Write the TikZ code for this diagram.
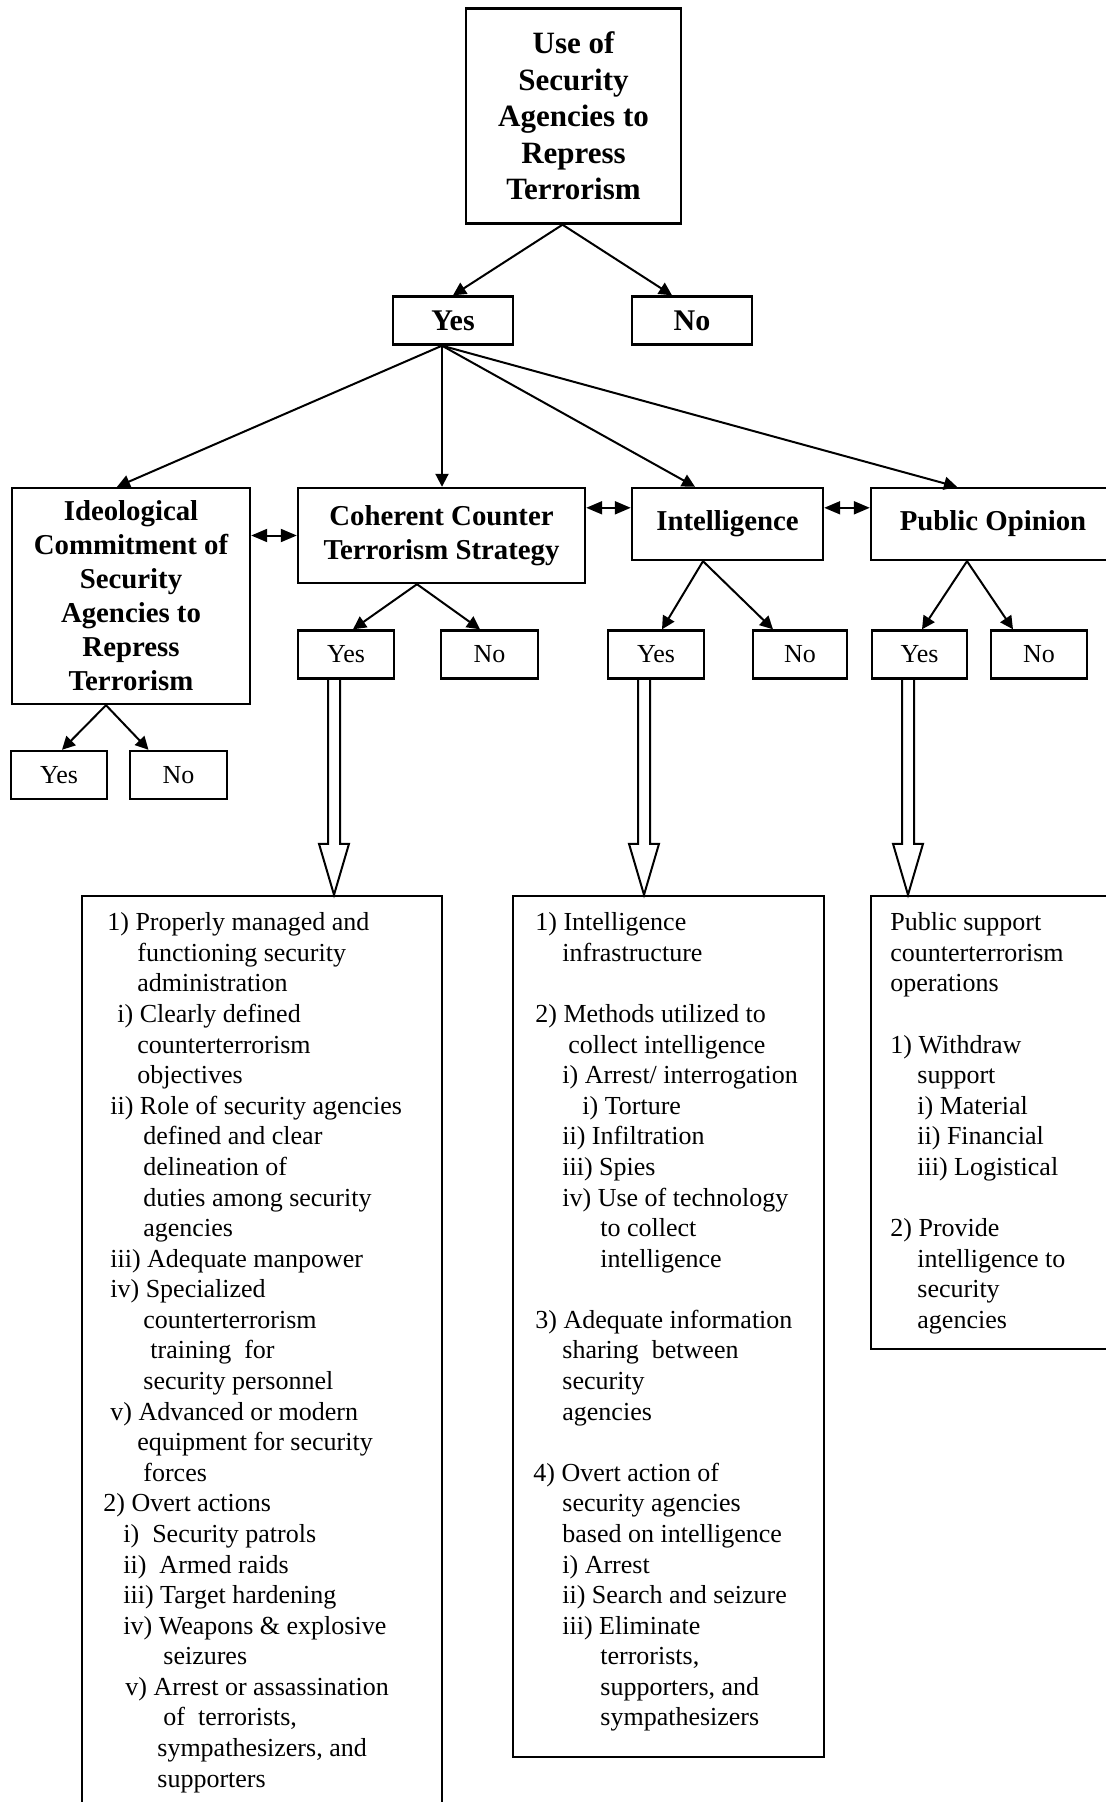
\documentclass[tikz,border=0pt]{standalone}
\usepackage{fontspec}
\setmainfont{Liberation Serif}
\usetikzlibrary{arrows.meta, positioning, calc}

\newcommand{\topfont}{\fontsize{15.5}{18.3}\selectfont\bfseries}
\newcommand{\headfont}{\fontsize{14.4}{17}\selectfont\bfseries}
\newcommand{\yesfont}{\fontsize{15}{18}\selectfont\bfseries}
\newcommand{\listfont}{\fontsize{13}{15.29}\selectfont}

% big hollow arrow from a Yes box down to its list
\newcommand{\bigarrow}[2]{%
  \draw[hollow] ($(#1)+(-6,0)$) -- ($(#1 |- #2.north)+(-6,-51)$) -- ++(-9,0)
    -- (#1 |- #2.north) -- ++(15,-51) -- ++(-9,0) -- ($(#1)+(6,0)$);}

\tikzset{
  headbox/.style={draw, line width=1.2pt, align=center, inner sep=0pt, font=\headfont},
  choicebox/.style={draw, line width=1.2pt, inner sep=0pt, minimum height=24pt, font=\listfont},
  listbox/.style={draw, line width=1.2pt, inner sep=0pt},
  listtext/.style={anchor=north west, align=left, inner sep=0pt, font=\listfont},
  fork/.style={->, line width=1pt},
  link/.style={{Triangle[length=8pt,width=6.5pt]}-{Triangle[length=8pt,width=6.5pt]}, line width=1pt},
  hollow/.style={line width=1pt},
}

\begin{document}
\begin{tikzpicture}[x=0.5pt, y=-0.5pt, >={Triangle[length=6.5pt,width=6.5pt]}]

      \useasboundingbox (0,0) rectangle (1106,1802);

      % Caixa do topo
      \node[headbox, font=\topfont, minimum width=107.5pt, minimum height=107.5pt] (usebox) at (573.5,116)
        {Use of\\Security\\Agencies to\\Repress\\Terrorism};

      \node[choicebox, font=\yesfont, minimum width=60pt] (yesmain) at (453,320.5) {Yes};
      \node[choicebox, font=\yesfont, minimum width=60pt] (nomain) at (692,320.5) {No};

      \coordinate (usefork) at ($(usebox.south)+(-11,0)$);
      \draw[fork] (usefork) -- (yesmain.north);
      \draw[fork] (usefork) -- ($(nomain.north)+(-20,0)$);

      % Segundo nivel
      \node[headbox, minimum width=119pt, minimum height=108pt] (ideobox) at (131,596)
        {Ideological\\Commitment of\\Security\\Agencies to\\Repress\\Terrorism};
      \node[headbox, minimum width=143.5pt, minimum height=47.5pt] (cohbox) at (441.5,535.5)
        {Coherent Counter\\Terrorism Strategy};
      \node[headbox, minimum width=95.5pt, minimum height=36pt] (intbox) at (727.5,524) {Intelligence};
      \node[headbox, minimum width=122pt, minimum height=36pt] (pubbox) at (993,524) {Public Opinion};

      \coordinate (yesfork) at ($(yesmain.south)+(-11,0)$);
      \draw[fork] (yesfork) -- ($(ideobox.north)+(-14,0)$);
      \draw[fork] (yesfork) -- (yesfork |- cohbox.north);
      \draw[fork] (yesfork) -- ($(intbox.north)+(-32.5,0)$);
      \draw[fork] (yesfork) -- ($(pubbox.north)+(-36,0)$);

      % Setas duplas
      \draw[link] (ideobox.east |- cohbox.west) -- (cohbox.west);
      \draw[link] ($(cohbox.north east)+(0,21)$) -- ($(intbox.north west)+(0,21)$);
      \draw[link] ($(intbox.north east)+(0,21)$) -- ($(pubbox.north west)+(0,21)$);

      % Yes / No do terceiro nivel
      \node[choicebox, minimum width=48pt] (ideoyes) at (59,775) {Yes};
      \node[choicebox, minimum width=48.5pt] (ideono) at (178.5,775) {No};
      \node[choicebox, minimum width=48pt] (cohyes) at (346,654.5) {Yes};
      \node[choicebox, minimum width=48.5pt] (cohno) at (489.5,654.5) {No};
      \node[choicebox, minimum width=48pt] (intyes) at (656,654.5) {Yes};
      \node[choicebox, minimum width=47pt] (intno) at (800,654.5) {No};
      \node[choicebox, minimum width=47.5pt] (pubyes) at (919.5,654.5) {Yes};
      \node[choicebox, minimum width=48pt] (pubno) at (1039,654.5) {No};

      \coordinate (ideofork) at ($(ideobox.south)+(-25,0)$);
      \draw[fork] (ideofork) -- ($(ideoyes.north)+(3,0)$);
      \draw[fork] (ideofork) -- ($(ideono.north)+(-30,0)$);

      \coordinate (cohfork) at ($(cohbox.south)+(-24.5,0)$);
      \draw[fork] (cohfork) -- ($(cohyes.north)+(7,0)$);
      \draw[fork] (cohfork) -- ($(cohno.north)+(-9.5,0)$);

      \coordinate (intfork) at ($(intbox.south)+(-24.5,0)$);
      \draw[fork] (intfork) -- ($(intyes.north)+(6,0)$);
      \draw[fork] (intfork) -- ($(intno.north)+(-27,0)$);

      \coordinate (pubfork) at ($(pubbox.south)+(-26,0)$);
      \draw[fork] (pubfork) -- ($(pubyes.north)+(2.5,0)$);
      \draw[fork] (pubfork) -- ($(pubno.north)+(-26,0)$);

      % Caixas das listas
      \node[listbox, minimum width=180pt, minimum height=459.5pt] (cctlist) at (262,1355.5) {};
      \node[listbox, minimum width=155.5pt, minimum height=430.5pt] (intlist) at (668.5,1326.5) {};
      \node[listbox, minimum width=122pt, minimum height=226.5pt] (publist) at (993,1122.5) {};

      \coordinate (cctshaft) at ($(cohyes.south)+(-12,0)$);
      \coordinate (intshaft) at ($(intyes.south)+(-12,0)$);
      \coordinate (pubshaft) at ($(pubyes.south)+(-11.5,0)$);
      \bigarrow{cctshaft}{cctlist}
      \bigarrow{intshaft}{intlist}
      \bigarrow{pubshaft}{publist}

      % Textos das listas
      \node[listtext] (cctitems) at (103,909) {\strut\hspace*{2pt}1) Properly managed and\\
        \hspace*{17pt}functioning security\\
        \hspace*{17pt}administration\\
        \hspace*{7pt}i) Clearly defined\\
        \hspace*{17pt}counterterrorism\\
        \hspace*{17pt}objectives\\
        \hspace*{3.5pt}ii) Role of security agencies\\
        \hspace*{20pt}defined and clear\\
        \hspace*{20pt}delineation of\\
        \hspace*{20pt}duties among security\\
        \hspace*{20pt}agencies\\
        \hspace*{3.5pt}iii) Adequate manpower\\
        \hspace*{3.5pt}iv) Specialized\\
        \hspace*{20pt}counterterrorism\\
        \hspace*{23.5pt}training\ \ for\\
        \hspace*{20pt}security personnel\\
        \hspace*{3.5pt}v) Advanced or modern\\
        \hspace*{17pt}equipment for security\\
        \hspace*{20pt}forces\\
        2) Overt actions\\
        \hspace*{10pt}i)\ \ Security patrols\\
        \hspace*{10pt}ii)\ \ Armed raids\\
        \hspace*{10pt}iii) Target hardening\\
        \hspace*{10pt}iv) Weapons \& explosive\\
        \hspace*{30pt}seizures\\
        \hspace*{11pt}v) Arrest or assassination\\
        \hspace*{30pt}of\ \ terrorists,\\
        \hspace*{27pt}sympathesizers, and\\
        \hspace*{27pt}supporters};

      \node[listtext] (intitems) at (533,909) {\strut\hspace*{1pt}1) Intelligence\\
        \hspace*{14.5pt}infrastructure\\[15.29pt]
        \hspace*{1pt}2) Methods utilized to\\
        \hspace*{17.5pt}collect intelligence\\
        \hspace*{14.5pt}i) Arrest/ interrogation\\
        \hspace*{24.5pt}i) Torture\\
        \hspace*{14.5pt}ii) Infiltration\\
        \hspace*{14.5pt}iii) Spies\\
        \hspace*{14.5pt}iv) Use of technology\\
        \hspace*{33.5pt}to collect\\
        \hspace*{33.5pt}intelligence\\[15.29pt]
        \hspace*{1pt}3) Adequate information\\
        \hspace*{14.5pt}sharing\ \ between\\
        \hspace*{14.5pt}security\\
        \hspace*{14.5pt}agencies\\[15.29pt]
        4) Overt action of\\
        \hspace*{14.5pt}security agencies\\
        \hspace*{14.5pt}based on intelligence\\
        \hspace*{14.5pt}i) Arrest\\
        \hspace*{14.5pt}ii) Search and seizure\\
        \hspace*{14.5pt}iii) Eliminate\\
        \hspace*{33.5pt}terrorists,\\
        \hspace*{33.5pt}supporters, and\\
        \hspace*{33.5pt}sympathesizers};

      \node[listtext] (pubitems) at (890,909) {\strut Public support\\
        counterterrorism\\
        operations\\[15.29pt]
        1) Withdraw\\
        \hspace*{13.5pt}support\\
        \hspace*{13.5pt}i) Material\\
        \hspace*{13.5pt}ii) Financial\\
        \hspace*{13.5pt}iii) Logistical\\[15.29pt]
        2) Provide\\
        \hspace*{13.5pt}intelligence to\\
        \hspace*{13.5pt}security\\
        \hspace*{13.5pt}agencies};

\end{tikzpicture}
\end{document}
